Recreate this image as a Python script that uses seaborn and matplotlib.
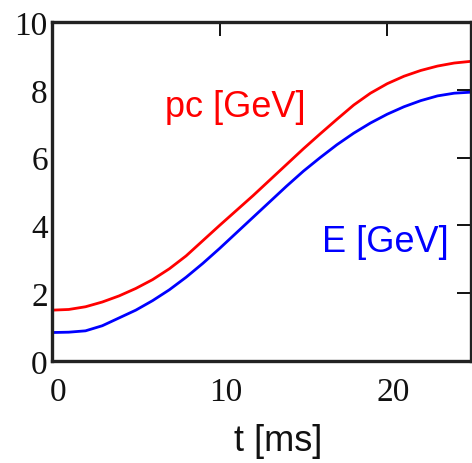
import matplotlib
matplotlib.use("Agg")
import matplotlib.pyplot as plt
import matplotlib.transforms as mtransforms
import seaborn as sns
import pandas as pd

# time axis [ms]
t_ms = list(range(0, 26))

# momentum pc [GeV]
pc_gev = [1.50, 1.52, 1.60, 1.74, 1.92, 2.14, 2.40, 2.72, 3.10, 3.55,
          4.00, 4.44, 4.88, 5.34, 5.80, 6.26, 6.70, 7.13, 7.55, 7.90,
          8.18, 8.40, 8.57, 8.70, 8.79, 8.84]

# kinetic energy E [GeV]
e_gev = [0.84, 0.85, 0.89, 1.04, 1.27, 1.50, 1.78, 2.10, 2.47, 2.88,
         3.32, 3.78, 4.24, 4.70, 5.16, 5.60, 6.00, 6.38, 6.72, 7.02,
         7.28, 7.50, 7.68, 7.82, 7.90, 7.93]

x_ticks = [0, 10, 20]
y_ticks = [0, 2, 4, 6, 8, 10]

sns.set_style("white")
plt.rcParams["font.family"] = ["Liberation Sans", "DejaVu Sans"]

df = pd.DataFrame({"t": t_ms * 2,
                   "v": pc_gev + e_gev,
                   "q": ["pc"] * len(t_ms) + ["E"] * len(t_ms)})

fig = plt.figure(figsize=(4.72, 4.64), dpi=100)
ax = fig.add_axes([52 / 472, 1 - 362 / 464, 419 / 472, 339 / 464])

sns.lineplot(data=df, x="t", y="v", hue="q",
             palette={"pc": "#ff0000", "E": "#0000ff"},
             linewidth=2.0, legend=False, ax=ax)

ax.set_xlim(0, 25)
ax.set_ylim(0, 10)
ax.set_xticks(x_ticks)
ax.set_yticks(y_ticks)
ax.set_xticklabels([str(v) for v in x_ticks], family="Liberation Serif", fontsize=24)
ax.set_yticklabels([str(v) for v in y_ticks], family="Liberation Serif", fontsize=24)
ax.tick_params(axis="both", direction="in", length=10, width=1.4, color="#111111",
               top=True, right=True, labelcolor="#111111")
ax.tick_params(axis="x", pad=11)
ax.tick_params(axis="y", pad=3)

# x tick labels sit a little to the right of their ticks
shift = mtransforms.ScaledTranslation(0.06, 0, fig.dpi_scale_trans)
for lbl in ax.get_xticklabels():
    lbl.set_transform(lbl.get_transform() + shift)

for s in ax.spines.values():
    s.set_linewidth(2.4)
    s.set_color("#222222")

ax.set_xlabel("t [ms]", fontsize=26, color="#111111")
ax.xaxis.set_label_coords(0.54, -0.183)
ax.set_ylabel("")

ax.text(6.76, 7.24, "pc [GeV]", color="#ff0000", fontsize=26,
        ha="left", va="baseline")
ax.text(16.1, 3.24, "E [GeV]", color="#0000ff", fontsize=26,
        ha="left", va="baseline")

fig.savefig("out.png", dpi=100)
